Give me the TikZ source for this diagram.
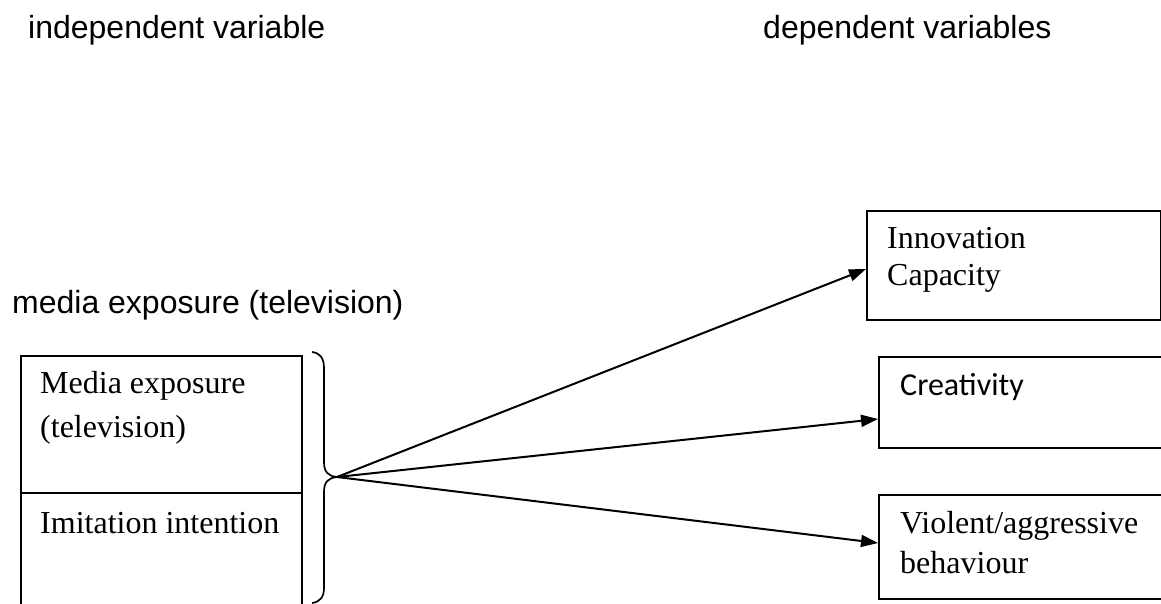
\documentclass[tikz,border=0pt]{standalone}
\usepackage{fontspec}
\setmainfont{Liberation Serif}
\newfontfamily\arialf{Liberation Sans}
\newfontfamily\calf{Carlito}
\usetikzlibrary{arrows.meta}
\begin{document}
\begin{tikzpicture}[x=1pt,y=-1pt,
  box/.style={draw,line width=1.6pt,anchor=north west,inner sep=0pt},
  lbl/.style={anchor=base west,inner sep=0pt,font=\fontsize{32}{38}\selectfont},
  head/.style={lbl,font=\arialf\fontsize{32}{38}\selectfont},
  link/.style={line width=2pt,-{Triangle[length=17pt,width=12pt]}}]
\useasboundingbox (0,0) rectangle (1161,603);
\clip (0,0) rectangle (1161,603);
% headings
\node[head] (hind) at (28,38) {independent variable};
\node[head] (hdep) at (763,38) {dependent variables};
\node[head] (hmed) at (12,313) {media exposure (television)};
% left box
\node[box,minimum width=281pt,minimum height=270pt] (ind) at (20,355) {};
\coordinate (dl) at (20,493);
\coordinate (dr) at (301,493);
\draw[line width=1.6pt] (dl) -- (dr);
\node[lbl] (t1) at (40,393) {Media exposure};
\node[lbl] (t2) at (40,437) {(television)};
\node[lbl] (t3) at (40,533) {Imitation intention};
% brace
\coordinate (src) at (337,477);
\draw[line width=1.7pt] (312,352) .. controls (320,353) and (324,358) .. (324,368) -- (324,462)
  .. controls (324,472) and (328,476) .. (src)
  .. controls (328,478) and (324,482) .. (324,492) -- (324,588)
  .. controls (324,597) and (320,602) .. (312,603);
% right boxes
\node[box,minimum width=294pt,minimum height=109pt] (b1) at (866,210) {};
\node[box,minimum width=300pt,minimum height=91pt] (b2) at (878,356) {};
\node[box,minimum width=300pt,minimum height=104pt] (b3) at (878,494) {};
\node[lbl] (r1) at (887,248) {Innovation};
\node[lbl] (r2) at (887,285) {Capacity};
\node[lbl,font=\calf\fontsize{32}{38}\selectfont] (r3) at (900,395) {Creativity};
\node[lbl] (r4) at (900,533) {Violent/aggressive};
\node[lbl] (r5) at (900,573) {behaviour};
% arrows
\coordinate (e1) at (866,269);
\coordinate (e2) at (878,419);
\coordinate (e3) at (878,543);
\draw[link] (src) -- (e1);
\draw[link] (src) -- (e2);
\draw[link] (src) -- (e3);
\end{tikzpicture}
\end{document}
